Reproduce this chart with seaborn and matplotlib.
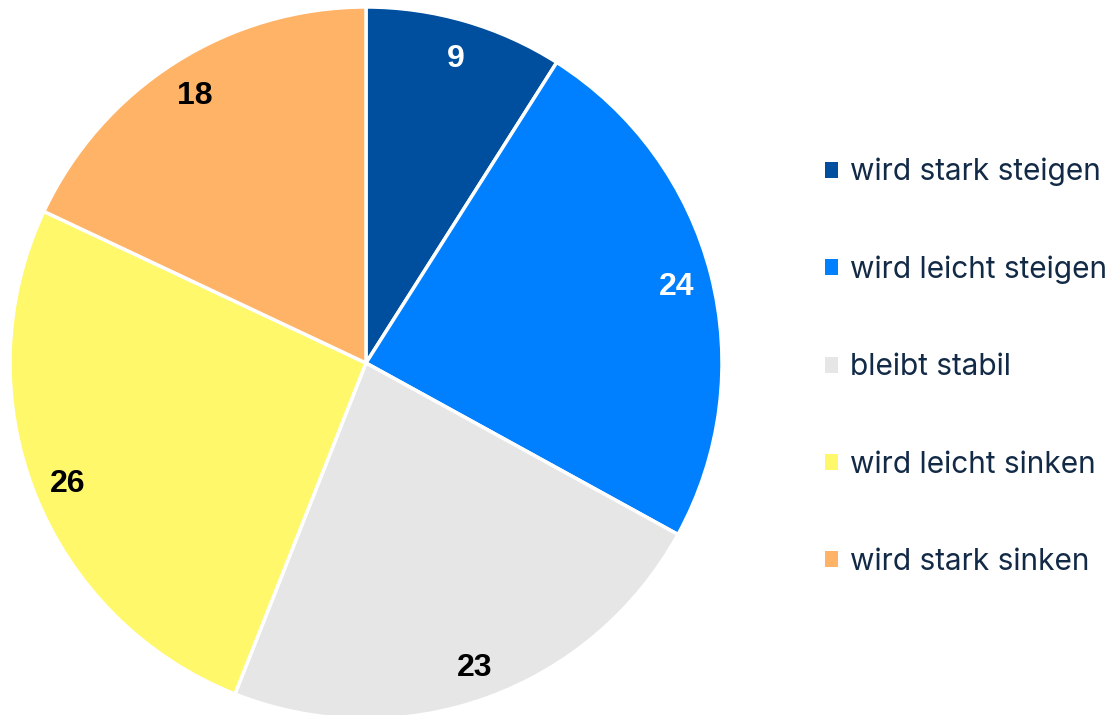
import numpy as np
import pandas as pd
import matplotlib
matplotlib.use("Agg")
import matplotlib.pyplot as plt
import seaborn as sns
from matplotlib.patches import Patch

categories = ["wird stark steigen", "wird leicht steigen", "bleibt stabil",
              "wird leicht sinken", "wird stark sinken"]
values = [9, 24, 23, 26, 18]
colors = ["#004f9f", "#0080ff", "#e6e6e6", "#fff86b", "#ffb366"]
label_colors = ["white", "white", "black", "black", "black"]

df = pd.DataFrame({"Kategorie": categories, "Wert": values})

sns.set_theme(style="white")
plt.rcParams['font.family'] = ['Liberation Sans', 'DejaVu Sans']

fig = plt.figure(figsize=(11.12, 7.15), dpi=100)
# pie axes: center ~(366, 363) px, radius ~356 px
ax = fig.add_axes([10 / 1112, (715 - 363 - 356) / 715, 712 / 1112, 712 / 715])

wedges, texts = ax.pie(df["Wert"], colors=colors, startangle=90, counterclock=False,
                       labels=[str(v) for v in df["Wert"]], labeldistance=0.9,
                       wedgeprops=dict(edgecolor="white", linewidth=2.5),
                       textprops=dict(fontsize=23, fontweight="bold"))
for t, c in zip(texts, label_colors):
    t.set_color(c)
    t.set_ha("center")
    t.set_va("center_baseline")
ax.set_aspect("equal")
ax.set_xlim(-1.0, 1.0)
ax.set_ylim(-1.0, 1.0)

handles = [Patch(facecolor=c, edgecolor="none") for c in colors]
leg = fig.legend(handles, categories, loc="center left", bbox_to_anchor=(825 / 1112, 0.487),
                 frameon=False, labelcolor="#132a47", borderaxespad=0, borderpad=0,
                 handlelength=0.45, handleheight=0.45, handletextpad=0.4,
                 labelspacing=2.32, prop={"family": ["Inter", "DejaVu Sans"], "size": 21.5})

fig.savefig("out.png", dpi=100)
